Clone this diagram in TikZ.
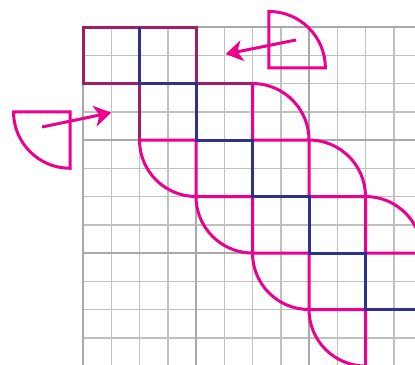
\documentclass[tikz,border=0pt]{standalone}
\usepackage{xcolor}
\usepackage{tikz}
\usetikzlibrary{arrows.meta}
\definecolor{tilemagenta}{RGB}{236,0,140}
\definecolor{tileblue}{RGB}{46,49,146}
\definecolor{tileplum}{RGB}{158,31,99}
\definecolor{gridminor}{RGB}{190,192,194}
\definecolor{gridmajor}{RGB}{167,169,172}
\tikzset{
  minorline/.style={gridminor, line width=1.5pt},
  majorline/.style={gridmajor, line width=2.8pt},
  stair/.style={tileblue, line width=3pt, line join=miter},
  oldsq/.style={tileplum, line width=3pt, line join=miter},
  piece/.style={tilemagenta, line width=3pt, line join=miter},
  move/.style={-{Stealth[length=17pt, width=21pt, inset=5pt]}, tilemagenta, line width=3pt}
}

\begin{document}
\begin{tikzpicture}[x=28.25pt, y=-28.25pt]
    \useasboundingbox (-2.938,-0.956) rectangle (11.752,11.929);
    \clip (-2.938,-0.956) rectangle (11.752,11.929);
    % squared paper
    \foreach \k in {0,...,12} {
      \draw[minorline] (\k,0) -- (\k,12.5);
      \draw[minorline] (0,\k) -- (12.5,\k);
    }
    \foreach \k in {0,4,8} {
      \draw[majorline] (\k,0) -- (\k,12.5);
      \draw[majorline] (0,\k) -- (12.5,\k);
    }
    % squares the pieces came from
    \draw[oldsq] (0,0) rectangle (4,2);
    \draw[oldsq] (4,2) -- (6,2);
    \draw[oldsq] (2,2) -- (2,4);
    % quarter discs below the steps
    \draw[piece] (2,4) -- (4,4) -- (4,6) arc[start angle=90, end angle=180, radius=2] -- cycle;
    \draw[piece] (4,6) -- (6,6) -- (6,8) arc[start angle=90, end angle=180, radius=2] -- cycle;
    \draw[piece] (6,8) -- (8,8) -- (8,10) arc[start angle=90, end angle=180, radius=2] -- cycle;
    \draw[piece] (8,10) -- (10,10) -- (10,12) arc[start angle=90, end angle=180, radius=2] -- cycle;
    % quarter discs above the steps
    \draw[piece] (6,2) -- (6,4) -- (8,4) arc[start angle=0, end angle=-90, radius=2] -- cycle;
    \draw[piece] (8,4) -- (8,6) -- (10,6) arc[start angle=0, end angle=-90, radius=2] -- cycle;
    \draw[piece] (10,6) -- (10,8) -- (12,8) arc[start angle=0, end angle=-90, radius=2] -- cycle;
    % staircase
    \draw[stair] (2,0) -- (2,2) -- (4,2) -- (4,4) -- (6,4) -- (6,6) -- (8,6) -- (8,8)
                 -- (10,8) -- (10,10) -- (12,10);
    % loose pieces
    \draw[piece] (-2.46,3) -- (-0.46,3) -- (-0.46,5) arc[start angle=90, end angle=180, radius=2] -- cycle;
    \draw[piece] (6.58,-0.55) -- (6.58,1.45) -- (8.58,1.45) arc[start angle=0, end angle=-90, radius=2] -- cycle;
    \coordinate (lefttail) at (-1.45,3.54);
    \coordinate (lefttip) at (1.0,3.03);
    \coordinate (righttail) at (7.54,0.46);
    \coordinate (righttip) at (5.05,0.96);
    \draw[move] (lefttail) -- (lefttip);
    \draw[move] (righttail) -- (righttip);
\end{tikzpicture}
\end{document}
